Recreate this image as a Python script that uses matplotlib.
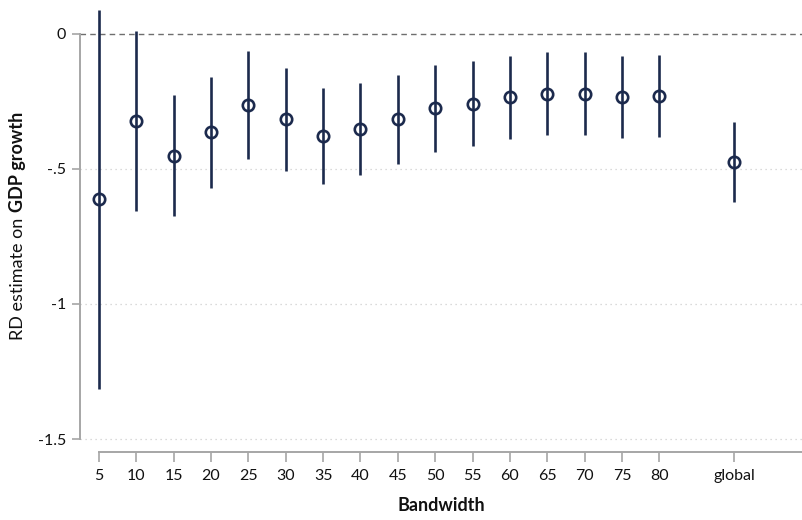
import matplotlib
matplotlib.use("Agg")
import matplotlib.pyplot as plt

plt.rcParams['font.family'] = ['Lato', 'DejaVu Sans']

# Regression-discontinuity estimates by bandwidth, with 95% confidence intervals
bandwidths = [5, 10, 15, 20, 25, 30, 35, 40, 45, 50, 55, 60, 65, 70, 75, 80]
estimates = [-0.612, -0.322, -0.451, -0.365, -0.265, -0.316, -0.379, -0.352, -0.316,
             -0.275, -0.258, -0.235, -0.221, -0.221, -0.233, -0.230]
ci_low = [-1.315, -0.656, -0.674, -0.569, -0.465, -0.506, -0.557, -0.522, -0.483,
          -0.437, -0.415, -0.389, -0.375, -0.374, -0.385, -0.381]
ci_high = [0.089, 0.011, -0.227, -0.160, -0.063, -0.128, -0.201, -0.181, -0.152,
           -0.115, -0.100, -0.080, -0.068, -0.068, -0.083, -0.078]

global_pos = 90
global_est = -0.474
global_low = -0.622
global_high = -0.327

x_ticks = bandwidths + [global_pos]
x_labels = [str(b) for b in bandwidths] + ["global"]
y_ticks = [0, -0.5, -1, -1.5]
y_labels = ["0", "-.5", "-1", "-1.5"]

navy = "#1c2a4d"
axis_gray = "#a6a6a6"

fig = plt.figure(figsize=(8.02, 5.20), dpi=100)
ax = fig.add_axes([80 / 802, 68 / 520, 722 / 802, 447 / 520])

xs = bandwidths + [global_pos]
ys = estimates + [global_est]
lows = ci_low + [global_low]
highs = ci_high + [global_high]

# gridlines and zero reference line
for yv in [-0.5, -1, -1.5]:
    ax.axhline(yv, color="#cfcfcf", lw=0.9, ls=(0, (1, 3)), zorder=1)
ax.axhline(0, color="#6e6e6e", lw=1.0, ls=(0, (4, 3)), zorder=1)

ax.vlines(xs, lows, highs, color=navy, lw=1.9, zorder=3)
ax.plot(xs, ys, ls="none", marker="o", ms=8.2, mfc="none", mec=navy, mew=1.9, zorder=4)

ax.set_xlim(2.46, 99.1)
ax.set_ylim(-1.548, 0.107)

ax.set_xticks(x_ticks)
ax.set_xticklabels(x_labels)
ax.set_yticks(y_ticks)
ax.set_yticklabels(y_labels)

for s in ["top", "right"]:
    ax.spines[s].set_visible(False)
ax.spines["left"].set_bounds(-1.5, 0)
ax.spines["bottom"].set_bounds(5, 99.1)
for s in ["left", "bottom"]:
    ax.spines[s].set_color(axis_gray)
    ax.spines[s].set_linewidth(1.4)

ax.tick_params(axis="both", colors=axis_gray, width=1.2, labelcolor="#111111", labelsize=11.5)
ax.tick_params(axis="y", length=6, pad=4)
ax.tick_params(axis="x", length=7, pad=5)

ax.set_xlabel("Bandwidth", fontsize=13, fontweight="bold", color="#111111", labelpad=10)

# y-axis title with a bold tail
t1 = fig.text(18 / 802, (520 - 340) / 520, "RD estimate on", rotation=90,
              ha="center", va="bottom", fontsize=13, color="#111111")
ax.annotate("GDP growth", xy=(0.5, 1.0), xycoords=t1, xytext=(0, 3.8),
            textcoords="offset points", rotation=90, ha="center", va="bottom",
            fontsize=13, fontweight="bold", color="#111111", annotation_clip=False)

fig.savefig("out.png", dpi=100)
